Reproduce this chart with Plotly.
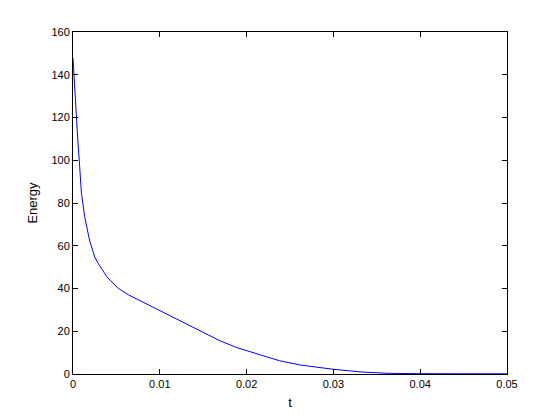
import plotly.graph_objects as go

# energy decay curve
t = [0.0, 0.0001, 0.0002, 0.0005, 0.00077, 0.00096, 0.00134, 0.0019, 0.0025,
     0.0029, 0.0039, 0.0052, 0.0064, 0.0083, 0.0102, 0.0118, 0.0135, 0.0150,
     0.0169, 0.0189, 0.0212, 0.0238, 0.0262, 0.030, 0.0334, 0.0365, 0.040,
     0.045, 0.05]
energy = [148.0, 140.0, 133.0, 113.0, 97.0, 85.0, 73.6, 62.7, 54.7,
          51.8, 45.5, 40.1, 37.0, 33.1, 29.1, 26.0, 22.6, 19.2,
          15.6, 12.3, 9.5, 6.2, 4.2, 2.2, 0.9, 0.3, 0.15,
          0.1, 0.08]

x_ticks = [0, 0.01, 0.02, 0.03, 0.04, 0.05]
x_labels = ["0", "0.01", "0.02", "0.03", "0.04", "0.05"]
y_ticks = [0, 20, 40, 60, 80, 100, 120, 140, 160]

fig = go.Figure()
fig.add_trace(go.Scatter(x=t, y=energy, mode="lines",
                         line=dict(color="#0000ff", width=1),
                         showlegend=False))

axis_style = dict(
    showgrid=False, zeroline=False, showline=True, linecolor="black",
    linewidth=1, mirror="ticks", ticks="inside", ticklen=5,
    tickcolor="black", tickfont=dict(size=11, color="black"),
)

# the page body has an 8px margin, so margins are shifted to compensate
fig.update_layout(
    width=560, height=420,
    margin=dict(l=65, r=61, t=24, b=54),
    paper_bgcolor="white", plot_bgcolor="white",
    font=dict(family="Liberation Sans, Arial, sans-serif", size=11, color="black"),
    xaxis=dict(range=[0, 0.05], tickvals=x_ticks, ticktext=x_labels,
               title=dict(text="t", standoff=8), **axis_style),
    yaxis=dict(range=[0, 160], tickvals=y_ticks,
               title=dict(text="Energy", standoff=10), **axis_style),
)

fig.write_html("out.html")
